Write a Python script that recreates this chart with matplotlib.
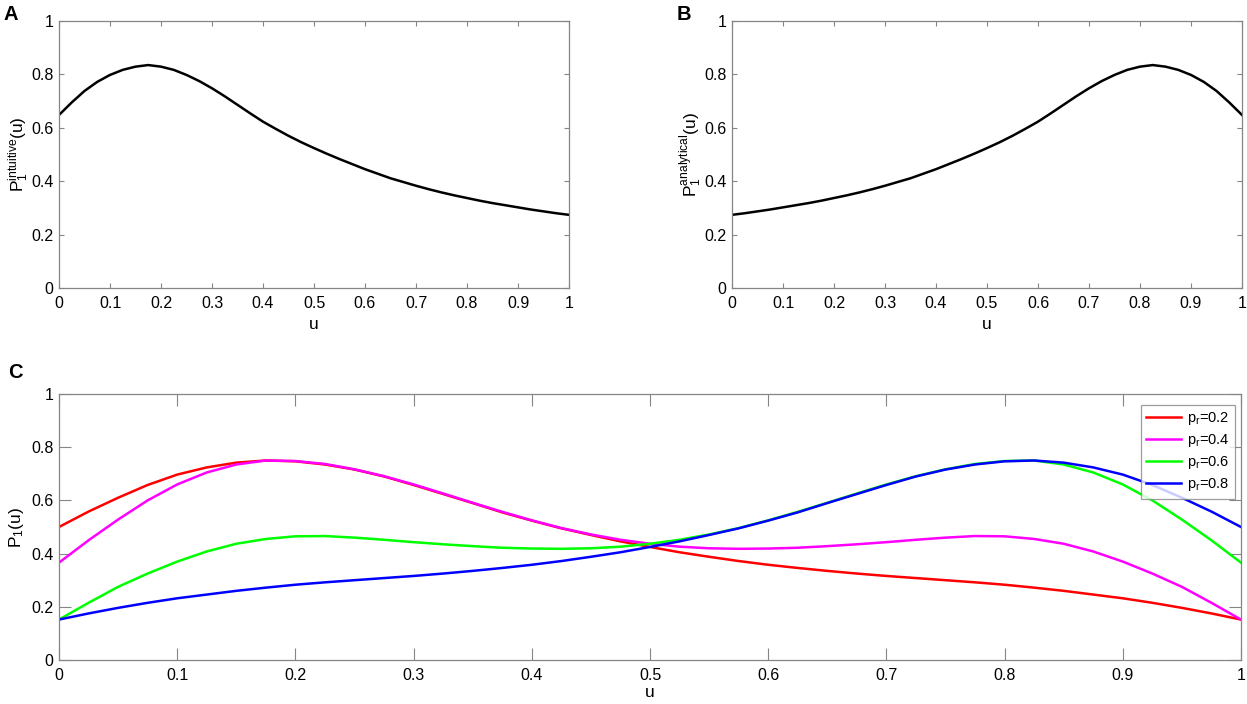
import numpy as np
import matplotlib
matplotlib.use("Agg")
import matplotlib.pyplot as plt

plt.rcParams['font.family'] = ['Liberation Sans', 'DejaVu Sans']
plt.rcParams['mathtext.fontset'] = 'custom'
plt.rcParams['mathtext.rm'] = 'Liberation Sans'
plt.rcParams['mathtext.it'] = 'Liberation Sans'

# ---------------- data ----------------
u = np.round(np.arange(0, 1.0001, 0.025), 3)

p_intuitive = [0.648, 0.695, 0.738, 0.772, 0.798, 0.817, 0.829, 0.835, 0.829, 0.817,
               0.798, 0.775, 0.748, 0.718, 0.686, 0.654, 0.623, 0.596, 0.570, 0.546,
               0.524, 0.503, 0.483, 0.464, 0.445, 0.428, 0.411, 0.397, 0.383, 0.370,
               0.358, 0.347, 0.337, 0.327, 0.318, 0.310, 0.302, 0.294, 0.287, 0.280,
               0.274]

p_analytical = [0.274, 0.280, 0.287, 0.294, 0.302, 0.310, 0.318, 0.327, 0.337, 0.347,
                0.358, 0.370, 0.383, 0.397, 0.411, 0.428, 0.445, 0.464, 0.483, 0.503,
                0.524, 0.546, 0.570, 0.596, 0.623, 0.654, 0.686, 0.718, 0.748, 0.775,
                0.798, 0.817, 0.829, 0.835, 0.829, 0.817, 0.798, 0.772, 0.738, 0.695,
                0.648]

p_r02 = [0.500, 0.558, 0.610, 0.658, 0.697, 0.724, 0.742, 0.750, 0.747, 0.735,
         0.716, 0.690, 0.658, 0.624, 0.590, 0.555, 0.524, 0.495, 0.470, 0.446,
         0.425, 0.405, 0.388, 0.372, 0.358, 0.346, 0.335, 0.325, 0.316, 0.308,
         0.300, 0.292, 0.283, 0.272, 0.260, 0.246, 0.232, 0.215, 0.196, 0.175,
         0.152]

p_r04 = [0.366, 0.450, 0.528, 0.600, 0.660, 0.705, 0.735, 0.750, 0.748, 0.737,
         0.717, 0.691, 0.660, 0.626, 0.591, 0.557, 0.525, 0.496, 0.472, 0.452,
         0.437, 0.426, 0.420, 0.418, 0.419, 0.422, 0.428, 0.435, 0.443, 0.452,
         0.460, 0.466, 0.465, 0.455, 0.437, 0.408, 0.370, 0.325, 0.275, 0.215,
         0.152]

p_r06 = [0.152, 0.215, 0.275, 0.325, 0.370, 0.408, 0.437, 0.455, 0.465, 0.466,
         0.460, 0.452, 0.443, 0.435, 0.428, 0.422, 0.419, 0.418, 0.420, 0.426,
         0.437, 0.452, 0.472, 0.496, 0.525, 0.557, 0.591, 0.626, 0.660, 0.691,
         0.717, 0.737, 0.748, 0.750, 0.735, 0.705, 0.660, 0.600, 0.528, 0.450,
         0.366]

p_r08 = [0.152, 0.175, 0.196, 0.215, 0.232, 0.246, 0.260, 0.272, 0.283, 0.292,
         0.300, 0.308, 0.316, 0.325, 0.335, 0.346, 0.358, 0.372, 0.388, 0.405,
         0.425, 0.446, 0.470, 0.495, 0.524, 0.555, 0.590, 0.624, 0.658, 0.690,
         0.716, 0.735, 0.747, 0.750, 0.742, 0.724, 0.697, 0.658, 0.610, 0.558,
         0.500]

series_labels = [r'p$_\mathregular{r}$=0.2', r'p$_\mathregular{r}$=0.4',
                 r'p$_\mathregular{r}$=0.6', r'p$_\mathregular{r}$=0.8']
series_values = [p_r02, p_r04, p_r06, p_r08]
series_colors = ['#ff0000', '#ff00ff', '#00ff00', '#0000ff']

xticks = [0, 0.1, 0.2, 0.3, 0.4, 0.5, 0.6, 0.7, 0.8, 0.9, 1]
xticklabels = ['0', '0.1', '0.2', '0.3', '0.4', '0.5', '0.6', '0.7', '0.8', '0.9', '1']
yticks = [0, 0.2, 0.4, 0.6, 0.8, 1]
yticklabels = ['0', '0.2', '0.4', '0.6', '0.8', '1']

# ---------------- figure ----------------
W, H = 1247, 704
fig = plt.figure(figsize=(W / 100, H / 100), dpi=100)

def px_axes(x0, x1, ytop, ybot):
    return fig.add_axes([x0 / W, 1 - ybot / H, (x1 - x0) / W, (ybot - ytop) / H])

spine_col = '#858585'

def style(ax, ticklen):
    ax.set_xlim(0, 1)
    ax.set_ylim(0, 1)
    ax.set_xticks(xticks)
    ax.set_xticklabels(xticklabels)
    ax.set_yticks(yticks)
    ax.set_yticklabels(yticklabels)
    for s in ax.spines.values():
        s.set_color(spine_col)
        s.set_linewidth(0.9)
    ax.tick_params(direction='in', length=ticklen, width=0.8, color=spine_col,
                   top=True, right=True, labelsize=11.5, labelcolor='black', pad=4)
    ax.tick_params(axis='x', pad=6)

axA = px_axes(59, 569, 21, 288)
axA.plot(u, p_intuitive, color='black', lw=1.8)
style(axA, 3.6)
axA.set_xlabel('u', fontsize=12.5, labelpad=4)
axA.set_ylabel(r'$\mathregular{P_1^{intuitive}(u)}$', fontsize=12.5, labelpad=0)

axB = px_axes(732, 1242, 21, 288)
axB.plot(u, p_analytical, color='black', lw=1.8)
style(axB, 3.6)
axB.set_xlabel('u', fontsize=12.5, labelpad=4)
axB.set_ylabel(r'$\mathregular{P_1^{analytical}(u)}$', fontsize=12.5, labelpad=0)

axC = px_axes(59, 1241, 394, 660)
for vals, lab, col in zip(series_values, series_labels, series_colors):
    axC.plot(u, vals, color=col, lw=1.8, label=lab)
style(axC, 8.5)
axC.set_xlabel('u', fontsize=12.5, labelpad=1)
axC.set_ylabel(r'$\mathregular{P_1(u)}$', fontsize=12.5, labelpad=4)
leg = axC.legend(loc='upper right', bbox_to_anchor=(0.9985, 0.975), fontsize=10.5,
                 frameon=True, fancybox=False, handlelength=2.4, handletextpad=0.4,
                 borderpad=0.35, labelspacing=0.35, borderaxespad=0.3)
leg.get_frame().set_edgecolor(spine_col)
leg.get_frame().set_linewidth(0.9)

fig.text(3 / W, 1 - 20 / H, 'A', fontsize=14.5, fontweight='bold', ha='left', va='baseline')
fig.text(677 / W, 1 - 20 / H, 'B', fontsize=14.5, fontweight='bold', ha='left', va='baseline')
fig.text(8 / W, 1 - 378 / H, 'C', fontsize=14.5, fontweight='bold', ha='left', va='baseline')

fig.savefig('out.png', dpi=100)
